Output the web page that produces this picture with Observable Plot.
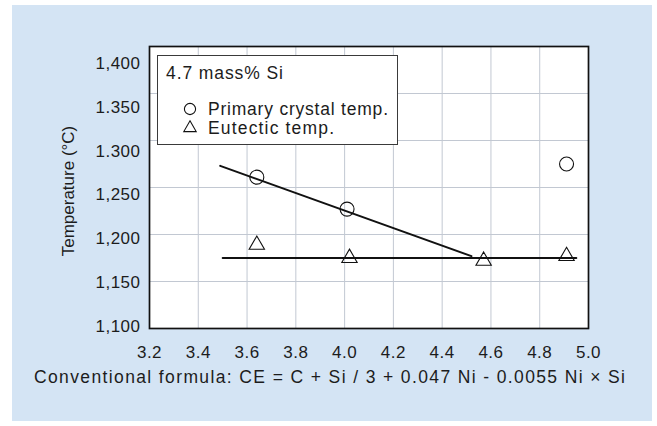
<!DOCTYPE html>
<html><head><meta charset="utf-8">
<script src="https://cdn.jsdelivr.net/npm/d3@7"></script>
<script src="https://cdn.jsdelivr.net/npm/@observablehq/plot@0.6"></script>
<style>
body{margin:0;background:#fff}
#root{position:relative;width:657px;height:426px;overflow:hidden;background:#fff;font-family:"Liberation Sans",Arial,Helvetica,sans-serif}
#panel{position:absolute;left:12px;top:5px;width:640px;height:416px;background:#d4e4f4}
.layer{position:absolute;left:0;top:0}
.ticks text{letter-spacing:0.5px}
#legend{position:absolute;left:157px;top:55px;width:241px;height:90px;box-sizing:border-box;border:1px solid #3a3a3a;background:#fff}
#legend svg{position:absolute;left:-1px;top:-1px}
</style></head><body>
<div id="root">
  <div id="panel"></div>
  <div id="main" class="layer"></div>
  <div id="yax" class="layer"></div>
  <div id="legend"></div>
  <svg id="over" class="layer" width="657" height="426"></svg>
</div>
<script>
// ---- data ----
const xTicks = [3.2, 3.4, 3.6, 3.8, 4.0, 4.2, 4.4, 4.6, 4.8, 5.0];
const yTicks = [1100, 1150, 1200, 1250, 1300, 1350, 1400];
const yTickLabels = ["1,100", "1,150", "1,200", "1,250", "1.300", "1.350", "1,400"];
const primaryCE = [3.64, 4.01, 4.91];
const primaryTemp = [1261, 1227, 1275];
const eutecticCE = [3.64, 4.02, 4.57, 4.91];
const eutecticTemp = [1189, 1175, 1172, 1177];
const primaryFitCE = [3.49, 4.52];
const primaryFitTemp = [1273, 1177];
const eutecticFitCE = [3.50, 4.95];
const eutecticFitTemp = [1175, 1175];
const legendTitle = "4.7 mass% Si";
const seriesNames = ["Primary crystal temp.", "Eutectic temp."];
const yTitle = "Temperature (°C)";
const xTitle = "Conventional formula: CE = C + Si / 3 + 0.047 Ni - 0.0055 Ni × Si";

const zip = (xs, ys) => xs.map((x, i) => ({ce: x, temp: ys[i]}));
const primary = zip(primaryCE, primaryTemp);
const eutectic = zip(eutecticCE, eutecticTemp);
const primaryFit = zip(primaryFitCE, primaryFitTemp);
const eutecticFit = zip(eutecticFitCE, eutecticFitTemp);

const font = '"Liberation Sans", Arial, Helvetica, sans-serif';
const ink = "#1c1c1c";
const gridColor = "#c2c8d2";
const fs = 17;
const fsText = 17.5;

const main = Plot.plot({
  width: 657, height: 390,
  marginTop: 46, marginBottom: 62, marginLeft: 149, marginRight: 69,
  className: "ticks",
  style: {background: "transparent", fontFamily: font, fontSize: fs + "px", color: ink},
  x: {domain: [3.2, 5.0], label: null},
  y: {domain: [1100, 1400], label: null, axis: null},
  marks: [
    Plot.frame({fill: "white", stroke: "none"}),
    Plot.gridX(xTicks, {stroke: gridColor, strokeOpacity: 1, strokeWidth: 1}),
    Plot.gridY(yTicks, {stroke: gridColor, strokeOpacity: 1, strokeWidth: 1}),
    Plot.line(primaryFit, {x: "ce", y: "temp", stroke: "#111", strokeWidth: 2}),
    Plot.line(eutecticFit, {x: "ce", y: "temp", stroke: "#111", strokeWidth: 2}),
    Plot.dot(primary, {x: "ce", y: "temp", symbol: "circle", r: 7, stroke: "#111", strokeWidth: 1.1, fill: "none"}),
    Plot.dot(eutectic, {x: "ce", y: "temp", symbol: "triangle", r: 5.7, stroke: "#111", strokeWidth: 1.1, fill: "none"}),
    Plot.frame({stroke: "#111", strokeWidth: 1.7}),
    Plot.axisX(xTicks, {tickSize: 0, tickPadding: 17, tickFormat: d => d.toFixed(1), label: null})
  ]
});
document.getElementById("main").appendChild(main);

// y tick labels sit on their own (slightly compressed) spacing in the reference
const yax = Plot.plot({
  width: 657, height: 390,
  marginTop: 63, marginBottom: 64, marginLeft: 149, marginRight: 69,
  className: "ticks",
  style: {background: "transparent", fontFamily: font, fontSize: fs + "px", color: ink},
  y: {domain: [1100, 1400], label: null},
  marks: [
    Plot.axisY(yTicks, {tickSize: 0, tickPadding: 9, tickFormat: d => yTickLabels[yTicks.indexOf(d)], label: null})
  ]
});
document.getElementById("yax").appendChild(yax);

// titles
const over = d3.select("#over");
over.append("text")
  .attr("transform", "translate(74,191) rotate(-90)")
  .attr("text-anchor", "middle")
  .attr("fill", ink).attr("font-family", font).attr("font-size", fs)
  .text(yTitle);
over.append("text")
  .attr("x", 34).attr("y", 383)
  .attr("fill", ink).attr("font-family", font).attr("font-size", fsText)
  .attr("textLength", 591).attr("lengthAdjust", "spacing")
  .text(xTitle);

// legend
const lg = d3.select("#legend").append("svg").attr("width", 241).attr("height", 90);
lg.append("text").attr("x", 9).attr("y", 24)
  .attr("textLength", 117).attr("lengthAdjust", "spacing")
  .attr("fill", ink).attr("font-family", font).attr("font-size", fsText).text(legendTitle);
const symbols = [d3.symbolCircle, d3.symbolTriangle];
const symSizes = [Math.PI * 5.6 * 5.6, Math.PI * 4.6 * 4.6];
const rowY = [54, 73];
const baseY = [60, 79];
const textLen = [180, 126];
seriesNames.forEach((name, i) => {
  lg.append("path")
    .attr("transform", `translate(33,${rowY[i]})`)
    .attr("d", d3.symbol(symbols[i], symSizes[i])())
    .attr("fill", "none").attr("stroke", "#111").attr("stroke-width", 1.1);
  lg.append("text").attr("x", 51).attr("y", baseY[i])
    .attr("textLength", textLen[i]).attr("lengthAdjust", "spacing")
    .attr("fill", ink).attr("font-family", font).attr("font-size", fsText).text(name);
});
</script>
</body></html>
